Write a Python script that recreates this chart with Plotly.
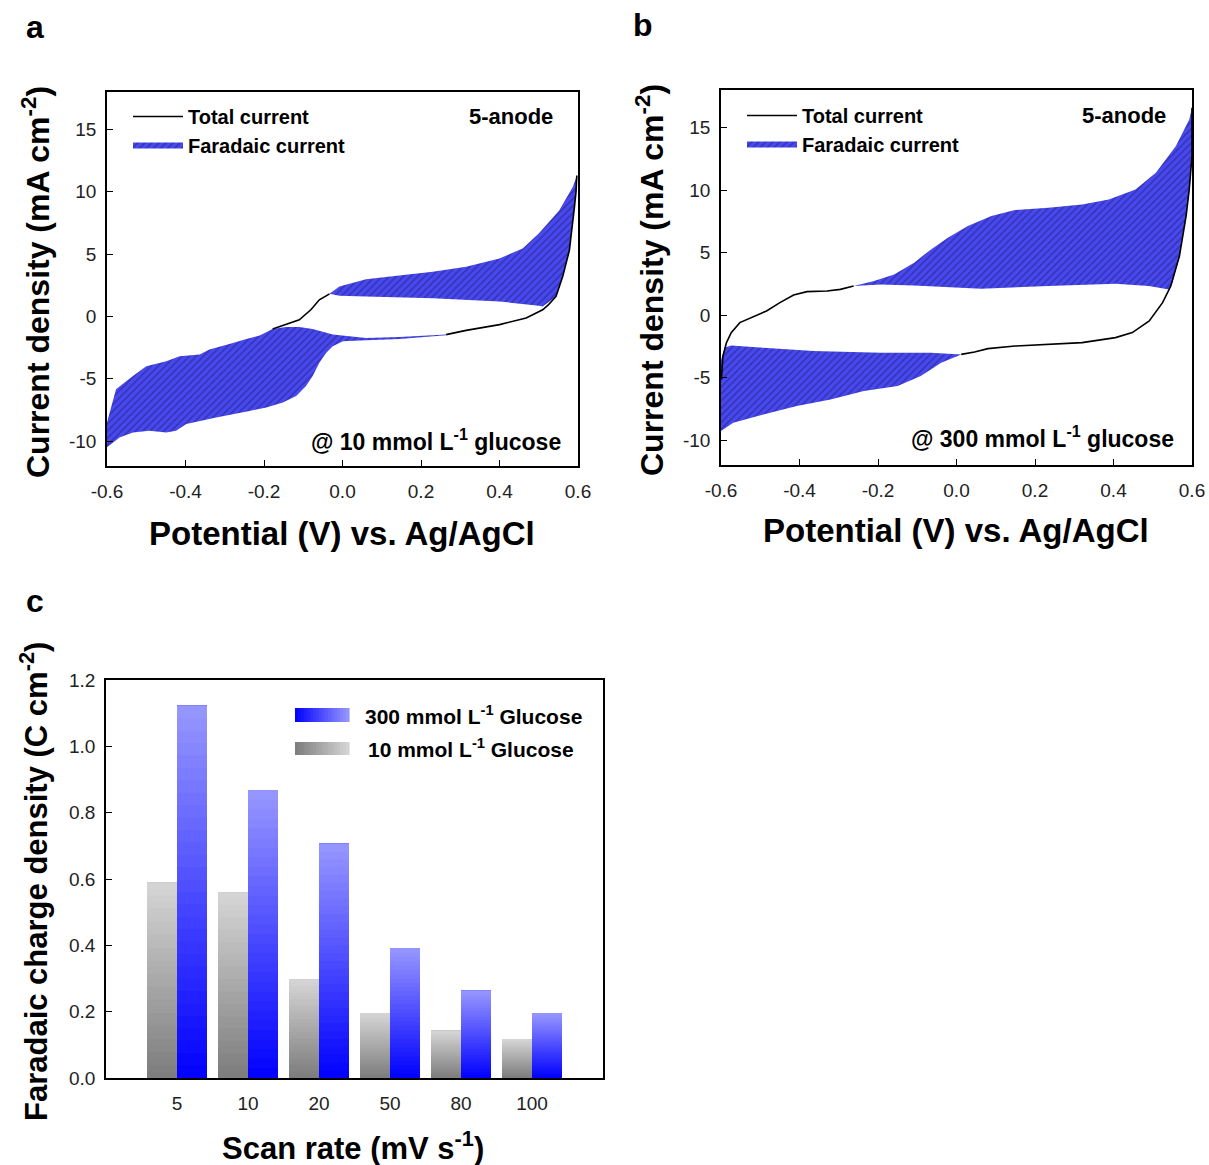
import plotly.graph_objects as go

W, H = 1209, 1165
FONT = "Liberation Sans, Arial, sans-serif"

# ---------------- Panel a data (10 mmol/L glucose) ----------------
a_total_mid_x = [-0.178, -0.144, -0.110, -0.080, -0.059, -0.033]
a_total_mid_y = [-1.01, -0.62, -0.27, 0.55, 1.33, 1.81]
a_total_right_x = [0.597, 0.595, 0.591, 0.578, 0.561, 0.544, 0.525, 0.510, 0.468, 0.400, 0.315, 0.264]
a_total_right_y = [11.3, 10.0, 8.8, 5.3, 3.19, 1.6, 0.95, 0.53, -0.13, -0.66, -1.12, -1.46]

a_up_top_x = [-0.033, -0.008, 0.060, 0.150, 0.230, 0.315, 0.400, 0.459, 0.500, 0.552, 0.587, 0.597]
a_up_top_y = [1.81, 2.39, 2.98, 3.30, 3.59, 3.99, 4.65, 5.45, 6.65, 8.5, 10.4, 11.3]
a_up_base_x = [0.510, 0.500, 0.400, 0.230, 0.060, -0.008, -0.033]
a_up_base_y = [0.80, 0.85, 1.20, 1.46, 1.60, 1.65, 1.81]

a_lo_top_x = [-0.600, -0.577, -0.534, -0.500, -0.449, -0.415, -0.364, -0.339, -0.279, -0.245,
              -0.211, -0.178, -0.144, -0.110, -0.076, -0.025, 0.060, 0.145, 0.264]
a_lo_top_y = [-8.51, -5.85, -4.79, -3.99, -3.59, -3.19, -3.06, -2.66, -2.13, -1.81,
              -1.54, -1.01, -0.85, -0.85, -1.01, -1.46, -1.73, -1.65, -1.46]
a_lo_bot_x = [0.264, 0.145, 0.060, 0.001, -0.025, -0.042, -0.059, -0.076, -0.093, -0.118,
              -0.152, -0.194, -0.237, -0.322, -0.398, -0.424, -0.449, -0.492, -0.534, -0.568, -0.600]
a_lo_bot_y = [-1.52, -1.81, -1.91, -1.99, -2.39, -2.93, -3.72, -4.79, -5.59, -6.38,
              -6.91, -7.31, -7.58, -8.11, -8.64, -9.18, -9.31, -9.18, -9.31, -9.71, -10.5]

# ---------------- Panel b data (300 mmol/L glucose) ----------------
b_total_left_x = [-0.599, -0.595, -0.586, -0.574, -0.552, -0.518, -0.484, -0.450, -0.415, -0.381, -0.330, -0.296, -0.262]
b_total_left_y = [-5.15, -3.28, -2.21, -1.41, -0.61, -0.13, 0.32, 0.99, 1.60, 1.87, 1.92, 2.05, 2.32]
b_total_right_x = [0.600, 0.600, 0.593, 0.585, 0.568, 0.546, 0.525, 0.491, 0.448, 0.405, 0.320, 0.234, 0.149, 0.080, 0.046, 0.012]
b_total_right_y = [16.59, 12.72, 10.05, 7.92, 4.72, 2.32, 0.99, -0.48, -1.41, -1.81, -2.21, -2.35, -2.48, -2.69, -2.96, -3.15]

b_up_top_x = [-0.262, -0.210, -0.159, -0.108, -0.065, -0.022, 0.029, 0.089, 0.149, 0.234, 0.320, 0.388, 0.456, 0.508, 0.559, 0.593, 0.600]
b_up_top_y = [2.32, 2.72, 3.25, 4.19, 5.25, 6.19, 7.12, 7.92, 8.40, 8.59, 8.85, 9.25, 10.05, 11.39, 13.52, 15.65, 16.59]
b_up_right_x = [0.600, 0.593, 0.585, 0.568, 0.550]
b_up_right_y = [12.72, 10.05, 7.92, 4.72, 2.6]
b_up_base_x = [0.542, 0.490, 0.405, 0.234, 0.063, -0.108, -0.193, -0.262]
b_up_base_y = [2.05, 2.32, 2.50, 2.32, 2.10, 2.37, 2.45, 2.32]

b_lo_top_x = [-0.600, -0.590, -0.574, -0.492, -0.364, -0.193, -0.065, 0.012]
b_lo_top_y = [-3.60, -2.60, -2.43, -2.61, -2.88, -3.01, -3.01, -3.15]
b_lo_bot_x = [-0.039, -0.091, -0.150, -0.236, -0.321, -0.407, -0.492, -0.569, -0.600]
b_lo_bot_y = [-3.81, -4.88, -5.68, -6.08, -6.75, -7.28, -7.95, -8.61, -9.28]

# ---------------- Panel c data ----------------
scan_rates = ["5", "10", "20", "50", "80", "100"]
charge_300 = [1.122, 0.868, 0.706, 0.391, 0.263, 0.195]
charge_10 = [0.589, 0.559, 0.297, 0.195, 0.142, 0.117]

cv_xticks = [-0.6, -0.4, -0.2, 0.0, 0.2, 0.4, 0.6]
cv_xticktext = ["-0.6", "-0.4", "-0.2", "0.0", "0.2", "0.4", "0.6"]
cv_yticks = [-10, -5, 0, 5, 10, 15]
cv_yticktext = ["-10", "-5", "0", "5", "10", "15"]
c_yticks = [0.0, 0.2, 0.4, 0.6, 0.8, 1.0, 1.2]
c_yticktext = ["0.0", "0.2", "0.4", "0.6", "0.8", "1.0", "1.2"]

# ---------------- helpers (window pixel -> paper fraction) ----------------
def px(x):
    return x / W

def py(y):
    return 1 - y / H

PATTERN = dict(shape="/", bgcolor="#4848f0", fgcolor="#1e1e70", size=5, solidity=0.3)

fig = go.Figure()


def add_cv(xa, ya, legend, total_segs, regions):
    for i, (rx, ry) in enumerate(regions):
        fig.add_trace(go.Scatter(
            x=rx, y=ry, mode="none", fill="toself", fillcolor="#4848f0",
            fillpattern=PATTERN, name="Faradaic current",
            showlegend=(i == 0), legend=legend, legendrank=2,
            xaxis=xa, yaxis=ya, hoverinfo="skip"))
    xs, ys = [], []
    for sx, sy in total_segs:
        if xs:
            xs.append(None)
            ys.append(None)
        xs += sx
        ys += sy
    fig.add_trace(go.Scatter(
        x=xs, y=ys, mode="lines", line=dict(color="black", width=1.6),
        name="Total current", legend=legend, xaxis=xa, yaxis=ya,
        connectgaps=False, hoverinfo="skip", legendrank=1))


add_cv("x", "y", "legend",
       [(a_total_mid_x, a_total_mid_y), (a_total_right_x, a_total_right_y)],
       [(a_up_top_x + a_total_right_x[1:6] + a_up_base_x, a_up_top_y + a_total_right_y[1:6] + a_up_base_y),
        (a_lo_top_x + a_lo_bot_x, a_lo_top_y + a_lo_bot_y)])

add_cv("x2", "y2", "legend2",
       [(b_total_left_x, b_total_left_y), (b_total_right_x, b_total_right_y)],
       [(b_up_top_x + b_up_right_x + b_up_base_x, b_up_top_y + b_up_right_y + b_up_base_y),
        (b_lo_top_x + b_lo_bot_x, b_lo_top_y + b_lo_bot_y)])

# ---------------- Panel c: gradient bars via stacked slices ----------------
NSEG = 30

def lerp(c0, c1, t):
    return "rgb(%d,%d,%d)" % tuple(round(a + (b - a) * t) for a, b in zip(c0, c1))

GRAY0, GRAY1 = (124, 124, 124), (214, 214, 214)
BLUE0, BLUE1 = (0, 0, 255), (152, 152, 255)

for series, group, c0, c1 in [(charge_10, "g10", GRAY0, GRAY1), (charge_300, "g300", BLUE0, BLUE1)]:
    for k in range(NSEG):
        t = (k + 0.5) / NSEG
        # each slice reaches up to the bar top; later (lighter) slices are drawn over it
        fig.add_trace(go.Bar(
            x=scan_rates, y=[v * (NSEG - k) / NSEG for v in series],
            base=[v * k / NSEG for v in series],
            offsetgroup=group, marker=dict(color=lerp(c0, c1, t), line=dict(width=0)),
            showlegend=False, xaxis="x3", yaxis="y3", hoverinfo="skip"))

# ---------------- axes ----------------
axis_common = dict(showline=True, linecolor="black", linewidth=1.5, mirror=True,
                   ticks="inside", ticklen=6, tickwidth=1.3, tickcolor="black",
                   showgrid=False, zeroline=False, automargin=False,
                   tickfont=dict(family=FONT, size=19, color="#222"))

fig.update_layout(
    xaxis=dict(domain=[px(107), px(578)], range=[-0.6, 0.6], anchor="y",
               tickvals=cv_xticks, ticktext=cv_xticktext, ticklabelstandoff=7, **axis_common),
    yaxis=dict(domain=[py(466), py(92)], range=[-12, 18], anchor="x",
               tickvals=cv_yticks, ticktext=cv_yticktext, ticklabelstandoff=5, **axis_common),
    xaxis2=dict(domain=[px(721), px(1192)], range=[-0.6, 0.6], anchor="y2",
                tickvals=cv_xticks, ticktext=cv_xticktext, ticklabelstandoff=7, **axis_common),
    yaxis2=dict(domain=[py(465), py(90)], range=[-12, 18], anchor="x2",
                tickvals=cv_yticks, ticktext=cv_yticktext, ticklabelstandoff=5, **axis_common),
    xaxis3=dict(domain=[px(106), px(603)], range=[-1, 6], anchor="y3", type="category",
                ticklabelstandoff=7, **{**axis_common, "ticks": ""}),
    yaxis3=dict(domain=[py(1078), py(680)], range=[0, 1.2], anchor="x3",
                tickvals=c_yticks, ticktext=c_yticktext, ticklabelstandoff=5, **axis_common),
    barmode="group", bargap=0.155, bargroupgap=0.0,
    width=W, height=H, margin=dict(l=0, r=0, t=0, b=0, autoexpand=False),
    paper_bgcolor="white", plot_bgcolor="white",
    font=dict(family=FONT, color="black"),
)

legend_common = dict(font=dict(family=FONT, size=20, color="black", weight="bold"),
                     bgcolor="rgba(0,0,0,0)", borderwidth=0, itemwidth=50,
                     xanchor="left", yanchor="top", tracegroupgap=0, traceorder="normal")
fig.update_layout(
    legend=dict(x=px(128), y=py(97), **legend_common),
    legend2=dict(x=px(742), y=py(96), **legend_common),
)

# ---------------- annotations ----------------
ann = []
def text(x, y, s, size, xanchor="center", yanchor="middle", angle=0, bold=True):
    ann.append(dict(x=px(x), y=py(y), xref="paper", yref="paper", text=s, showarrow=False,
                    xanchor=xanchor, yanchor=yanchor, textangle=angle,
                    font=dict(family=FONT, size=size, color="black", weight="bold" if bold else "normal")))

text(35, 27, "a", 32)
text(643, 25, "b", 32)
text(35, 601, "c", 32)
text(342, 533, "Potential (V) vs. Ag/AgCl", 33)
text(956, 531, "Potential (V) vs. Ag/AgCl", 33)
text(36, 282, "Current density (mA cm<sup>-2</sup>)", 32, angle=-90)
text(650, 280, "Current density (mA cm<sup>-2</sup>)", 32, angle=-90)
text(353, 1146, "Scan rate (mV s<sup>-1</sup>)", 31)
text(34, 882, "Faradaic charge density (C cm<sup>-2</sup>)", 31, angle=-90)
text(555, 116, "5-anode", 22, xanchor="right")
text(1168, 115, "5-anode", 22, xanchor="right")
text(563, 440, "@ 10 mmol L<sup>-1</sup> glucose", 23, xanchor="right")
text(1176, 437, "@ 300 mmol L<sup>-1</sup> glucose", 23, xanchor="right")
text(363, 715, "300 mmol L<sup>-1</sup> Glucose", 21, xanchor="left")
text(366, 748, "10 mmol L<sup>-1</sup> Glucose", 21, xanchor="left")
fig.update_layout(annotations=ann)

shapes = []
NSW = 18
for i in range(NSW):
    t = (i + 0.5) / NSW
    x0 = 295 + (349 - 295) * i / NSW
    x1 = 295 + (349 - 295) * (i + 1) / NSW + 0.6
    shapes.append(dict(type="rect", xref="paper", yref="paper", x0=px(x0), x1=px(x1),
                       y0=py(722), y1=py(708), line=dict(width=0), fillcolor=lerp(BLUE0, BLUE1, t)))
    shapes.append(dict(type="rect", xref="paper", yref="paper", x0=px(x0), x1=px(x1),
                       y0=py(755), y1=py(742), line=dict(width=0), fillcolor=lerp(GRAY0, GRAY1, t)))
fig.update_layout(shapes=shapes)

# remove the default page margin so the figure fills the window exactly
fig.write_html("out.html", config={"displayModeBar": False},
               post_script="document.body.style.margin='0px';document.body.style.overflow='hidden';")
